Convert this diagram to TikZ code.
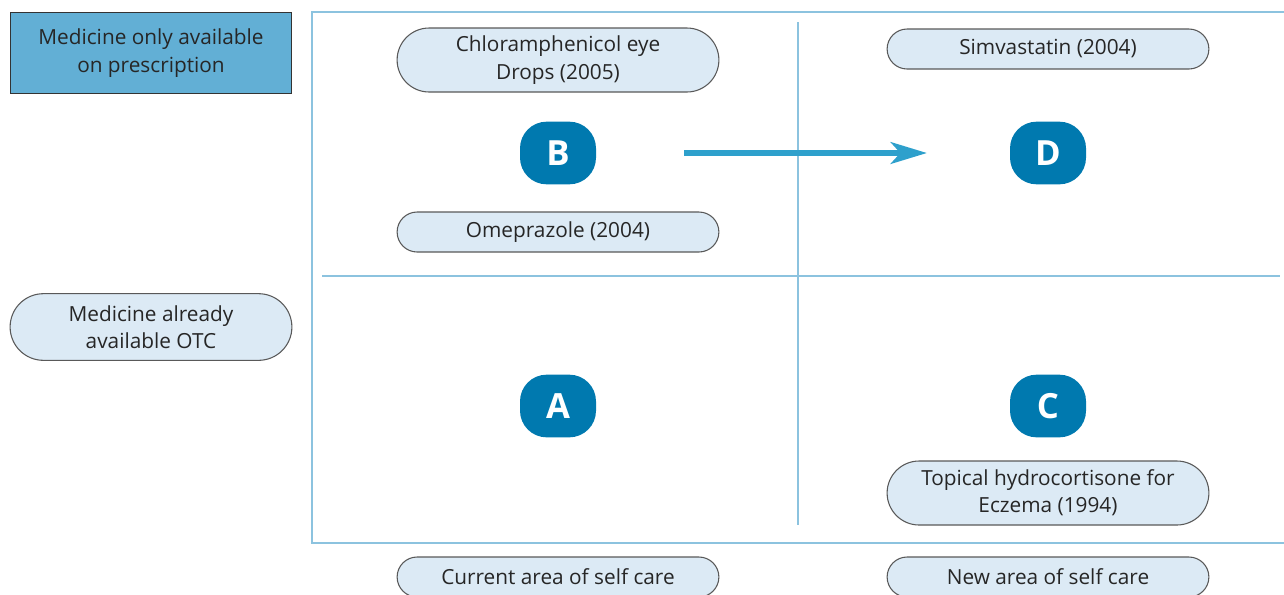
\documentclass[tikz,border=0pt]{standalone}
\usepackage{fontspec}
\setmainfont{Open Sans}
\usetikzlibrary{shapes.misc,arrows.meta}
\definecolor{pillfill}{HTML}{DCEAF5}
\definecolor{rxfill}{HTML}{62AFD5}
\definecolor{badgeblue}{HTML}{0079AF}
\definecolor{gridblue}{HTML}{8CC3DF}
\definecolor{arrowblue}{HTML}{2EA0CC}
\begin{document}
\begin{tikzpicture}[x=0.75pt,y=-0.75pt,
  pill/.style={rounded rectangle,draw=black!65,line width=0.8pt,fill=pillfill,
    minimum width=248pt,minimum height=30pt,align=center,font=\fontsize{15.6}{20.5}\selectfont,text=black!85},
  badge/.style={rectangle,rounded corners=20pt,fill=badgeblue,text=white,
    minimum width=57pt,minimum height=47pt,font=\fontsize{26}{30}\selectfont\bfseries}]
  \useasboundingbox (0,0) rectangle (1284,594);
  % frame and quadrants
  \draw[gridblue,line width=1.5pt] (1284,12) -- (312,12) -- (312,543) -- (1284,543);
  \draw[gridblue,line width=1.5pt] (798,22) -- (798,525);
  \draw[gridblue,line width=1.5pt] (322,276) -- (1280,276);
  % row labels
  \node[rectangle,draw=black!80,line width=0.8pt,fill=rxfill,minimum width=211pt,minimum height=61pt,
    align=center,font=\fontsize{15.6}{20.5}\selectfont,text=black!85] (rx) at (151,53) {Medicine only available\\on prescription};
  \node[pill,minimum width=218pt,minimum height=50pt] (otc) at (151,327) {Medicine already\\available OTC};
  % quadrant letters
  \node[badge] (B) at (558,153) {B};
  \node[badge] (D) at (1048,153) {D};
  \node[badge] (A) at (558,406) {A};
  \node[badge] (C) at (1048,406) {C};
  \draw[arrowblue,line width=5.2pt,-{Stealth[length=27pt,width=16pt,inset=7pt]},
    shorten <=66pt,shorten >=62pt] (B) -- (D);
  % medicines
  \node[pill,minimum height=48pt] (chloro) at (558,60) {Chloramphenicol eye\\Drops (2005)};
  \node[pill] (simva) at (1048,49) {Simvastatin (2004)};
  \node[pill] (omep) at (558,232) {Omeprazole (2004)};
  \node[pill,minimum height=48pt] (hydro) at (1048,493) {Topical hydrocortisone for\\Eczema (1994)};
  % column labels
  \node[pill] (cur) at (558,577) {Current area of self care};
  \node[pill] (new) at (1048,577) {New area of self care};
\end{tikzpicture}
\end{document}
